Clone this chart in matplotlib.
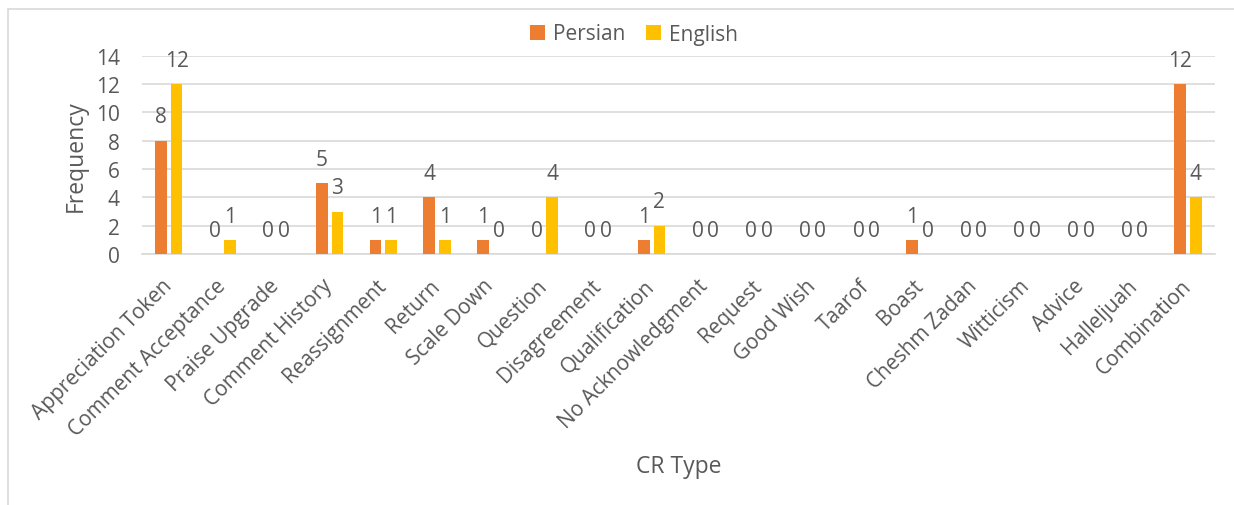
import matplotlib.pyplot as plt
from matplotlib.patches import Rectangle
import numpy as np

# data
categories = ['Appreciation Token', 'Comment Acceptance', 'Praise Upgrade', 'Comment History',
              'Reassignment', 'Return', 'Scale Down', 'Question', 'Disagreement', 'Qualification',
              'No Acknowledgment', 'Request', 'Good Wish', 'Taarof', 'Boast', 'Cheshm Zadan',
              'Witticism', 'Advice', 'Halleljuah', 'Combination']
persian = [8, 0, 0, 5, 1, 4, 1, 0, 0, 1, 0, 0, 0, 0, 1, 0, 0, 0, 0, 12]
english = [12, 1, 0, 3, 1, 1, 0, 4, 0, 2, 0, 0, 0, 0, 0, 0, 0, 0, 0, 4]
yticks = [0, 2, 4, 6, 8, 10, 12, 14]

plt.rcParams['font.family'] = ['Open Sans', 'DejaVu Sans']
txt = '#595959'

fig = plt.figure(figsize=(12.34, 5.06), dpi=100)
ax = fig.add_axes([0.115, 0.496, 0.8696, 0.392])

# chart frame
fig.patches.append(Rectangle((8 / 1234, -0.1), 1.2, 1 - 10 / 506 + 0.1, transform=fig.transFigure,
                             fill=False, edgecolor='#D9D9D9', linewidth=1.2))

x = np.arange(len(categories))
w = 0.22
b1 = ax.bar(x - 0.145, persian, w, color='#ED7D31', label='Persian', zorder=3)
b2 = ax.bar(x + 0.145, english, w, color='#FFC000', label='English', zorder=3)

for bars in (b1, b2):
    for r in bars:
        ax.annotate(f'{int(r.get_height())}', (r.get_x() + r.get_width() / 2, r.get_height()),
                    xytext=(0, 9.5), textcoords='offset points', ha='center', va='bottom',
                    fontsize=15, color=txt)

ax.set_xlim(-0.5, len(categories) - 0.5)
ax.set_ylim(0, 14)
ax.set_yticks(yticks)
ax.yaxis.grid(True, color='#D9D9D9', linewidth=1.2, zorder=0)
ax.set_axisbelow(True)
for s in ['top', 'right', 'left']:
    ax.spines[s].set_visible(False)
ax.spines['bottom'].set_color('#D9D9D9')
ax.spines['bottom'].set_linewidth(1.2)
ax.tick_params(axis='both', length=0, colors=txt, labelsize=15)
ax.tick_params(axis='y', pad=16)
ax.tick_params(axis='x', pad=15)
ax.set_xticks(x - 0.14)
ax.set_xticklabels(categories, rotation=45, ha='right', va='top', rotation_mode='anchor')

ax.set_ylabel('Frequency', fontsize=16.5, color=txt, labelpad=6)
fig.text(679 / 1234, 1 - 467 / 506, 'CR Type', fontsize=16.5, color=txt, ha='center', va='center')

fig.legend(loc='center', bbox_to_anchor=(634 / 1234, 1 - 35 / 506), ncol=2, frameon=False,
           fontsize=15, labelcolor=txt, handlelength=0.7, handleheight=0.7,
           handletextpad=0.4, columnspacing=1.0)

plt.savefig('out.png', dpi=100)
